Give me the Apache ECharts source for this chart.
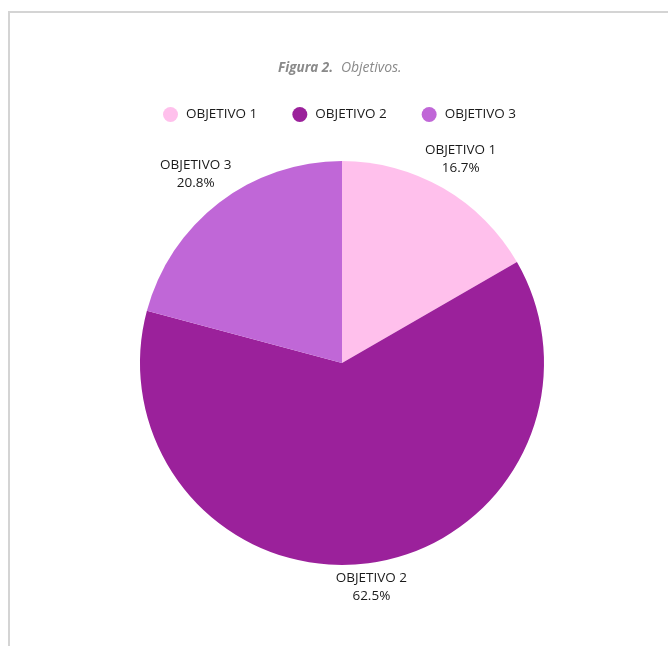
<!DOCTYPE html>
<html>
<head>
<meta charset="utf-8">
<script src="https://cdn.jsdelivr.net/npm/echarts@6/dist/echarts.min.js"></script>
<style>
  html, body { margin: 0; padding: 0; background: #fff; }
  #frame { position: absolute; left: 8px; top: 11px; width: 660px; height: 635px;
           border-left: 2px solid #d4d4d4; border-top: 2px solid #d4d4d4; box-sizing: border-box; }
  #chart { position: absolute; left: 0; top: 0; width: 668px; height: 646px; }
</style>
</head>
<body>
<div id="frame"></div>
<div id="chart"></div>
<script>
const categories = ['OBJETIVO 1', 'OBJETIVO 2', 'OBJETIVO 3'];
const counts = [4, 15, 5];
const colors = ['#FFC0EC', '#9B219B', '#C067D7'];

const CX = 342, CY = 363, R = 202, GAP = 3;
const FONT = 'Open Sans';

const total = counts.reduce((a, b) => a + b, 0);
const midAngles = [];
let acc = 0;
counts.forEach(v => { midAngles.push((acc + v / 2) / total * 2 * Math.PI); acc += v; });

function placeLabel(params) {
  const i = params.dataIndex;
  const a = midAngles[i];
  const ux = Math.sin(a), uy = -Math.cos(a);
  const hw = params.labelRect.width / 2, hh = params.labelRect.height / 2;
  const dist = t => {
    const cx = Math.abs(t * ux), cy = Math.abs(t * uy);
    const dx = Math.max(0, cx - hw), dy = Math.max(0, cy - hh);
    return Math.sqrt(dx * dx + dy * dy);
  };
  let lo = 0, hi = 600;
  for (let k = 0; k < 60; k++) {
    const m = (lo + hi) / 2;
    if (dist(m) < R + GAP) lo = m; else hi = m;
  }
  return { x: CX + lo * ux, y: CY + lo * uy + 1.5, align: 'center', verticalAlign: 'middle' };
}

const chart = echarts.init(document.getElementById('chart'), null, { renderer: 'canvas' });
chart.setOption({
  animation: false,
  color: colors,
  title: {
    text: '{b|Figura 2.} {n|Objetivos.}',
    left: 273,
    top: 56,
    textStyle: {
      fontWeight: 'normal',
      fontSize: 13.5,
      rich: {
        b: { fontFamily: FONT, fontSize: 13.5, fontStyle: 'italic', fontWeight: 'bold', color: '#8a8a8a', padding: [0, 4, 0, 0] },
        n: { fontFamily: FONT, fontSize: 14, fontStyle: 'italic', fontWeight: 'normal', color: '#8a8a8a' }
      }
    }
  },
  legend: {
    data: categories,
    top: 102,
    left: 158,
    icon: 'circle',
    itemWidth: 15,
    itemHeight: 15,
    itemGap: 35,
    textStyle: { fontFamily: FONT, fontSize: 13.5, color: '#1a1a1a', padding: [0, 0, 0, 3] }
  },
  series: [{
    type: 'pie',
    center: [CX, CY],
    radius: R,
    startAngle: 90,
    clockwise: true,
    percentPrecision: 1,
    data: categories.map((c, i) => ({ name: c, value: counts[i] })),
    itemStyle: { borderWidth: 0 },
    label: {
      show: true,
      position: 'outside',
      formatter: '{b}\n{d}%',
      fontFamily: FONT,
      fontSize: 13.5,
      lineHeight: 18,
      color: '#1a1a1a'
    },
    labelLine: { show: false },
    labelLayout: placeLabel,
    emphasis: { disabled: true }
  }]
});
</script>
</body>
</html>
